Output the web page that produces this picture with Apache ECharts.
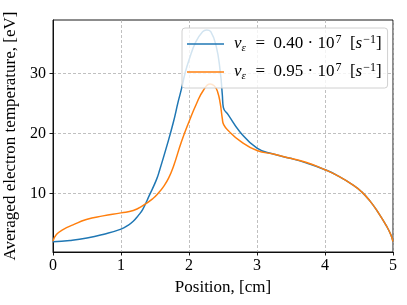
<!DOCTYPE html>
<html>
<head>
<meta charset="utf-8">
<script src="https://cdn.jsdelivr.net/npm/echarts@6/dist/echarts.min.js"></script>
<style>
html,body{margin:0;padding:0;background:#fff;}
#chart{width:407px;height:305px;}
</style>
</head>
<body>
<div id="chart"></div>
<script>
// Data
var blueX = [0, 0.25, 0.5, 0.75, 1.0, 1.1, 1.18, 1.25, 1.32, 1.42, 1.52, 1.57, 1.67, 1.77, 1.84, 1.89, 1.94, 2.0, 2.1, 2.2, 2.26, 2.32, 2.4, 2.46, 2.49, 2.505, 2.58, 2.75, 3.0, 3.24, 3.49, 3.73, 4.0, 4.17, 4.42, 4.54, 4.66, 4.78, 4.91, 4.97, 5.0];
var blueY = [2.0, 2.2, 2.6, 3.25, 4.1, 4.7, 5.4, 6.3, 7.4, 9.8, 12.3, 14.0, 17.8, 21.9, 25.3, 27.5, 30.0, 32.3, 35.3, 37.0, 37.3, 37.0, 34.6, 30.3, 26.5, 24.4, 23.1, 20.3, 17.6, 16.6, 15.9, 15.1, 14.0, 13.1, 11.4, 10.3, 8.8, 6.9, 4.5, 3.1, 2.0];
var orangeX = [0, 0.05, 0.147, 0.294, 0.49, 0.735, 1.0, 1.18, 1.32, 1.47, 1.55, 1.62, 1.7, 1.77, 1.89, 2.0, 2.11, 2.21, 2.31, 2.37, 2.42, 2.46, 2.49, 2.51, 2.58, 2.75, 3.0, 3.24, 3.49, 3.73, 4.0, 4.17, 4.42, 4.54, 4.66, 4.78, 4.91, 4.97, 5.0];
var orangeY = [2.1, 3.2, 4.0, 4.8, 5.7, 6.3, 6.8, 7.2, 8.0, 9.2, 10.1, 11.1, 12.6, 14.5, 18.7, 22.0, 25.0, 27.2, 28.3, 28.0, 27.0, 25.0, 22.5, 21.5, 20.5, 18.8, 17.2, 16.6, 15.9, 15.2, 14.0, 13.1, 11.4, 10.3, 8.8, 6.9, 4.5, 3.1, 2.0];
var seriesNames = ['ν_ε = 0.40 · 10^7 [s^-1]', 'ν_ε = 0.95 · 10^7 [s^-1]'];
var legendMantissa = ['0.40', '0.95'];
var xTicks = [0, 1, 2, 3, 4, 5];
var yTicks = [10, 20, 30];
var xLabel = 'Position, [cm]';
var yLabel = 'Averaged electron temperature, [eV]';

function pairs(xs, ys) { return xs.map(function (x, i) { return [x, ys[i]]; }); }

var serif = 'Liberation Serif';
var chart = echarts.init(document.getElementById('chart'), null, {renderer: 'canvas'});
var option = {
  animation: false,
  backgroundColor: '#ffffff',
  grid: {left: 53, right: 14, top: 20, bottom: 53, outerBoundsMode: 'none', containLabel: false,
    show: true, borderColor: '#000', borderWidth: 0.9, backgroundColor: 'transparent'},
  xAxis: {
    type: 'value', min: 0, max: 5, interval: 1,
    name: xLabel, nameLocation: 'middle', nameGap: 27,
    nameTextStyle: {fontFamily: serif, fontSize: 17, color: '#000'},
    axisLine: {show: true, onZero: false, lineStyle: {color: '#000', width: 0.9}},
    axisTick: {show: true, length: 3.5, lineStyle: {color: '#000', width: 0.9}},
    axisLabel: {fontFamily: serif, fontSize: 16, color: '#000', margin: 6,
      customValues: xTicks},
    splitLine: {show: true, lineStyle: {color: '#b0b0b0', width: 0.8, type: [3, 2]}}
  },
  yAxis: {
    type: 'value', min: 0.28, max: 38.95,
    name: yLabel, nameLocation: 'middle', nameGap: 32,
    nameTextStyle: {fontFamily: serif, fontSize: 17, color: '#000'},
    axisLine: {show: true, onZero: false, lineStyle: {color: '#000', width: 0.9}},
    axisTick: {show: true, length: 3.5, lineStyle: {color: '#000', width: 0.9}, customValues: yTicks},
    axisLabel: {fontFamily: serif, fontSize: 16, color: '#000', margin: 7,
      customValues: yTicks,
      formatter: function (v) { return (Math.abs(v % 10) < 1e-6) ? String(v) : ''; }},
    splitLine: {show: true, lineStyle: {color: '#b0b0b0', width: 0.8, type: [3, 2]}}
  },
  legend: {
    left: 182, top: 28, orient: 'vertical',
    itemWidth: 37, itemHeight: 14, itemGap: 6,
    padding: [5, 6, 5, 5],
    backgroundColor: 'rgba(255,255,255,0.8)',
    borderColor: '#d0d0d0', borderWidth: 1, borderRadius: 3,
    icon: 'path://M0,0 L37,0 L37,1.5 L0,1.5 Z',
    data: seriesNames,
    formatter: function (name) {
      var k = seriesNames.indexOf(name);
      return '{i|ν}{sub|ε}{n|  =  ' + legendMantissa[k] + ' · 10}{sup|7}{n|  [}{i|s}{sup|−1}{n|]}';
    },
    textStyle: {
      fontFamily: serif, fontSize: 17, color: '#000', padding: [0, 0, 0, 5],
      rich: {
        n: {fontFamily: serif, fontSize: 17, color: '#000', lineHeight: 22, height: 22},
        i: {fontFamily: serif, fontStyle: 'italic', fontSize: 17, color: '#000', lineHeight: 22, height: 22},
        sub: {fontFamily: serif, fontStyle: 'italic', fontSize: 11, color: '#000', lineHeight: 22, padding: [9, 1, 0, 0]},
        sup: {fontFamily: serif, fontSize: 12, color: '#000', lineHeight: 22, padding: [0, 0, 9, 1]}
      }
    }
  },
  series: [
    {name: seriesNames[0], type: 'line', data: pairs(blueX, blueY), symbol: 'none', smooth: 0.5,
      lineStyle: {color: '#1f77b4', width: 1.5}, itemStyle: {color: '#1f77b4'}, z: 2},
    {name: seriesNames[1], type: 'line', data: pairs(orangeX, orangeY), symbol: 'none', smooth: 0.5,
      lineStyle: {color: '#ff7f0e', width: 1.5}, itemStyle: {color: '#ff7f0e'}, z: 3}
  ]
};
chart.setOption(option);
</script>
</body>
</html>
